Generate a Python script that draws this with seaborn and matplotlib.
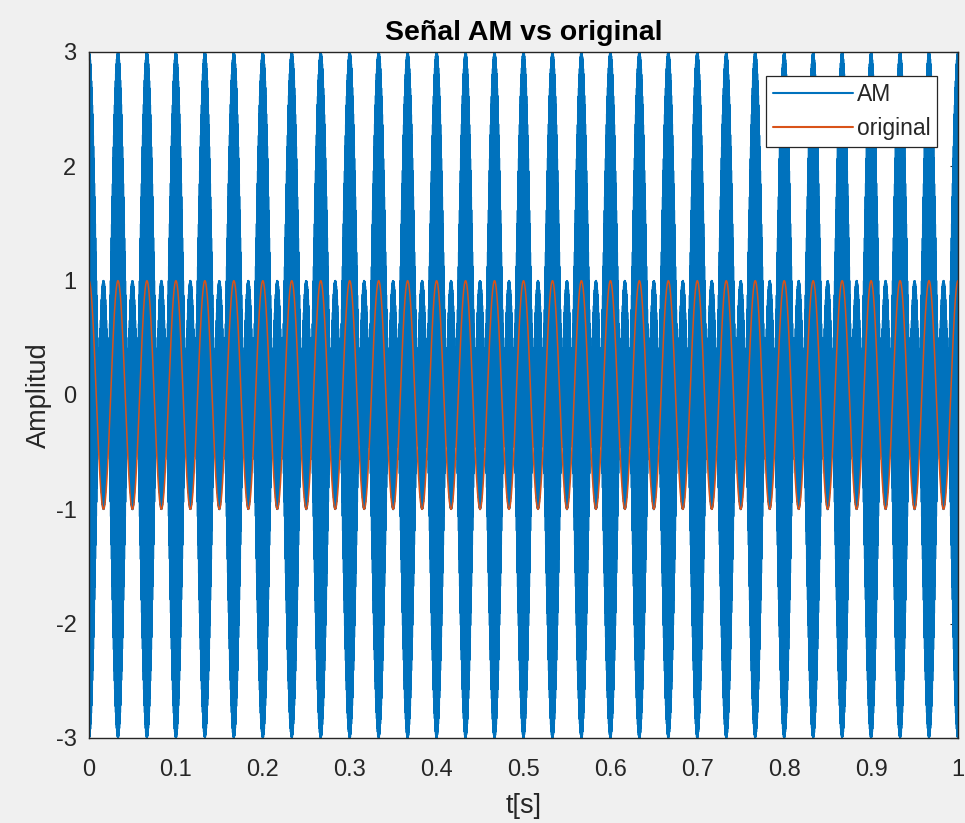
import numpy as np
import pandas as pd
import matplotlib
matplotlib.use("Agg")
import matplotlib.pyplot as plt
import seaborn as sns

# Signal parameters
fs = 100000           # sample rate [Hz]
duration = 1.0        # [s]
f_message = 30        # message frequency [Hz]
f_carrier = 3000      # carrier frequency [Hz]
mod_gain = 2.0        # message gain in the envelope
x_ticks = [0, 0.1, 0.2, 0.3, 0.4, 0.5, 0.6, 0.7, 0.8, 0.9, 1]
x_tick_labels = ["0", "0.1", "0.2", "0.3", "0.4", "0.5", "0.6", "0.7", "0.8", "0.9", "1"]
y_ticks = [-3, -2, -1, 0, 1, 2, 3]
y_tick_labels = ["-3", "-2", "-1", "0", "1", "2", "3"]

t = np.arange(0, duration + 1 / fs, 1 / fs)
original = np.cos(2 * np.pi * f_message * t)
am = (1 + mod_gain * original) * np.cos(2 * np.pi * f_carrier * t)

df = pd.DataFrame({"t": t, "AM": am, "original": original})

sns.set_style("white")
plt.rcParams["font.family"] = ["Liberation Sans", "DejaVu Sans"]
ink = "#262626"

fig = plt.figure(figsize=(9.65, 8.23), dpi=100, facecolor="#f0f0f0")
ax = fig.add_axes([89 / 965, 1 - 738 / 823, (958 - 89) / 965, (738 - 52) / 823])
ax.set_facecolor("white")

sns.lineplot(data=df, x="t", y="AM", ax=ax, color="#0072BD", linewidth=1.4,
             estimator=None, sort=False, label="AM")
sns.lineplot(data=df, x="t", y="original", ax=ax, color="#D95319", linewidth=1.1,
             estimator=None, sort=False, label="original")

ax.set_xlim(0, 1)
ax.set_ylim(-3, 3)
ax.set_xticks(x_ticks)
ax.set_xticklabels(x_tick_labels)
ax.set_yticks(y_ticks)
ax.set_yticklabels(y_tick_labels)
ax.tick_params(direction="in", length=6, width=0.8, colors=ink, labelsize=17,
               top=True, right=True)
ax.tick_params(axis="x", pad=15)
ax.tick_params(axis="y", pad=9)
for s in ax.spines.values():
    s.set_visible(True)
    s.set_color(ink)
    s.set_linewidth(1.0)

ax.set_title("Señal AM vs original", fontsize=20.5, fontweight="bold", color="black", pad=9)
ax.set_xlabel("t[s]", fontsize=19.5, color=ink, labelpad=9)
ax.set_ylabel("Amplitud", fontsize=19.5, color=ink, labelpad=3)

leg = ax.legend(loc="upper right", bbox_to_anchor=(0.976, 0.965), borderaxespad=0,
                fontsize=16.5, frameon=True, fancybox=False, framealpha=1,
                edgecolor=ink, handlelength=3.5, handletextpad=0.15,
                borderpad=0.3, labelspacing=0.5)
leg.get_frame().set_linewidth(0.9)
for line in leg.get_lines():
    line.set_linewidth(1.5)
for txt in leg.get_texts():
    txt.set_color(ink)

fig.savefig("out.png", dpi=100, facecolor=fig.get_facecolor())
